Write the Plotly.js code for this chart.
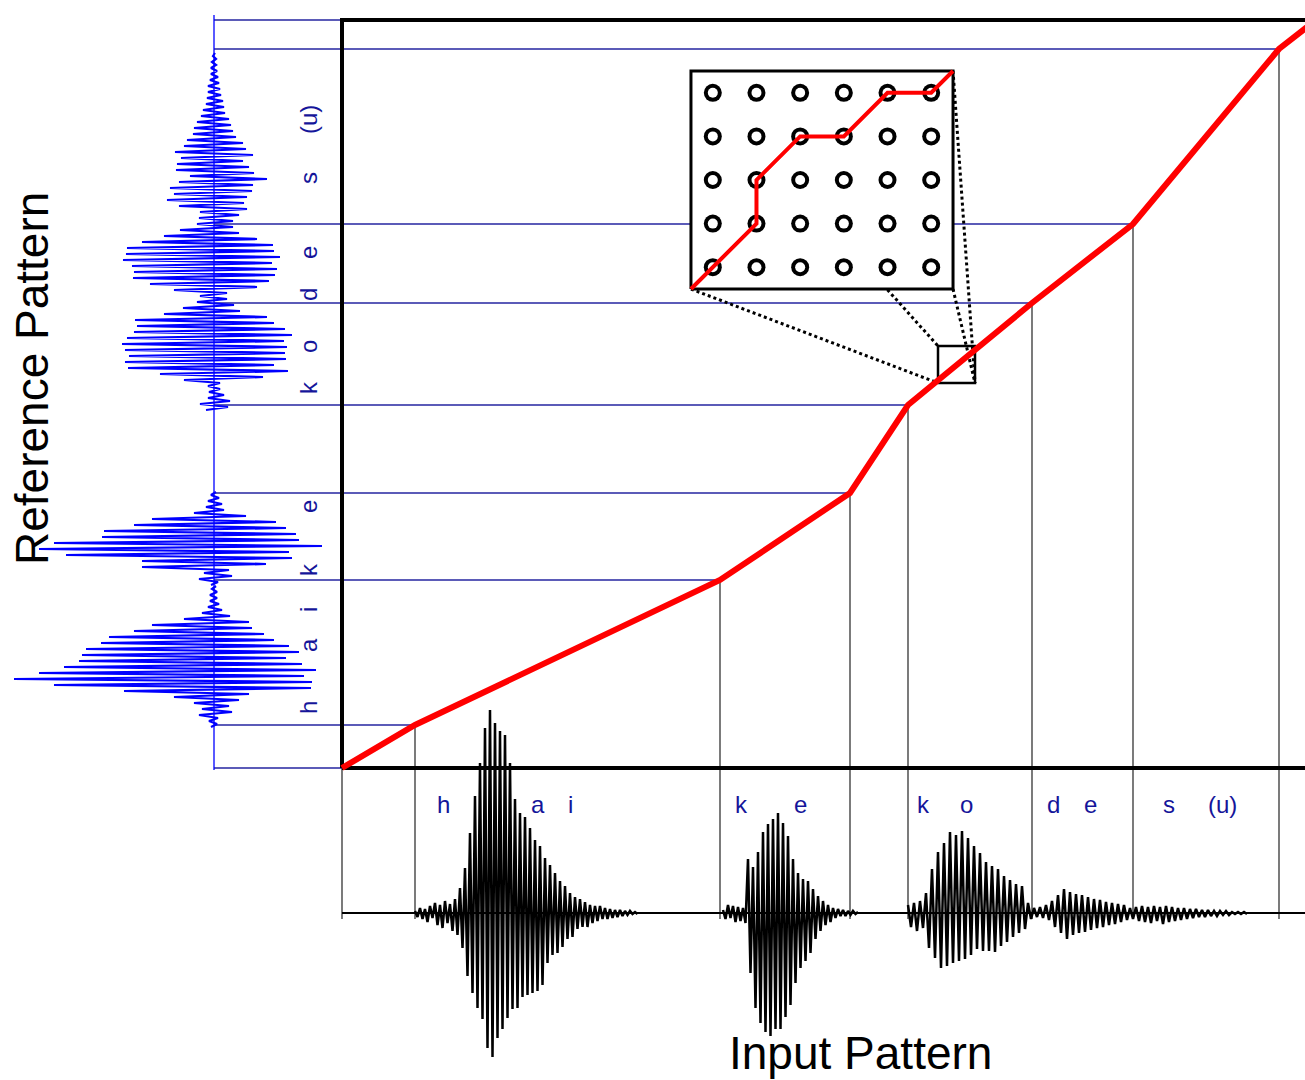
<!DOCTYPE html>
<html>
<head>
<meta charset="utf-8">
<script src="https://cdn.plot.ly/plotly-3.0.1.min.js"></script>
<style>html,body{margin:0;padding:0;overflow:hidden;background:#fff}</style>
</head>
<body>
<div id="chart" style="width:1305px;height:1080px"></div>
<script>
// ---------------- data ----------------
// segment boundaries (frames) on the input and reference time axes
const inputBounds = [0, 7.3, 37.8, 50.8, 56.6, 69.0, 79.1, 93.7, 97.4];
const refBounds   = [0, 4.3, 18.8, 27.5, 36.3, 46.5, 54.4, 71.9, 74.8];

// phoneme labels
const phonemes = ['h', 'a', 'i', 'k', 'e', 'k', 'o', 'd', 'e', 's', '(u)'];
const inputLabelPos = [10.1, 19.6, 22.8, 39.9, 45.8, 58.1, 62.4, 71.1, 74.8, 82.7, 88.0];
const refLabelPos   = [6.0, 12.3, 15.8, 19.8, 26.1, 38.0, 42.1, 47.3, 51.5, 59.0, 64.8];

// input waveform segments (amplitude samples)
const inHaiStart = 7.3, inHaiStep = 0.25;
const inHai = [2,-4,5,-6,4,-9,7,-5,10,-12,8,-15,12,-10,9,-18,14,-22,25,-35,
  45,-63,80,-80,117,-95,150,-106,185,-135,203,-144,190,-125,182,-116,178,-105,150,-96,
  114,-95,100,-84,96,-82,85,-80,73,-78,67,-72,55,-50,48,-42,40,-40,32,-34,
  27,-26,20,-24,16,-16,14,-14,11,-14,8,-10,7,-8,7,-6,5,-6,4,-5,
  3,-4,3,-3,2,-2,2,-1,1,-1];
const inKeStart = 38.1, inKeStep = 0.25;
const inKe = [3,-6,8,-5,7,-9,6,-8,5,-10,54,-60,46,-95,61,-110,81,-119,89,-123,
  94,-116,100,-116,90,-104,77,-92,54,-70,40,-55,34,-48,32,-40,24,-26,17,-18,
  12,-12,8,-9,5,-5,4,-3,3,-3,2,-2,2,-1,1];
const inKodesuStart = 56.6, inKodesuStep = 0.3;
const inKodesu = [8,-14,10,-18,12,-15,20,-35,44,-45,61,-55,70,-53,81,-50,78,-48,82,-46,
  75,-42,67,-36,60,-38,51,-38,47,-39,44,-33,37,-29,33,-24,29,-20,27,-16,
  10,-6,5,-4,6,-5,8,-7,12,-14,18,-20,24,-26,21,-22,19,-20,18,-19,
  16,-17,14,-15,13,-14,11,-12,10,-11,9,-9,8,-7,5,-6,6,-8,7,-9,
  6,-10,7,-8,6,-11,7,-9,6,-8,5,-7,5,-6,4,-5,4,-4,3,-4,
  3,-3,2,-3,2,-2,2,-2,1,-1,1,-1,1,-1];

// reference waveform segments (amplitude samples, negative = left)
const refHaiStart = 4.1, refHaiStep = 0.3;
const refHai = [-3,3,-5,4,-15,18,-12,15,-20,25,-40,35,-90,97,-160,98,-200,90,-175,102,
  -150,88,-135,72,-132,85,-128,75,-113,60,-105,50,-80,38,-62,35,-30,16,-12,8,
  -6,5,-4,3,-4,3,-2,2];
const refKeStart = 18.3, refKeStep = 0.3;
const refKe = [-3,4,-15,18,-10,15,-72,52,-72,78,-148,75,-175,108,-160,85,-112,82,-110,72,
  -80,62,-62,32,-20,10,-8,8,-6,5,-3,2];
const refKodesuStart = 35.8, refKodesuStep = 0.3;
const refKodesu = [-8,14,-14,16,-6,10,-5,6,-6,6,-30,49,-54,74,-86,60,-89,72,-85,71,
  -89,73,-92,70,-87,78,-80,71,-77,60,-79,53,-50,26,-31,20,-17,13,-14,13,
  -40,43,-64,55,-81,61,-80,63,-82,58,-91,66,-88,60,-87,59,-72,43,-50,25,
  -34,19,-17,19,-15,25,-14,33,-35,30,-47,33,-40,38,-44,39,-35,53,-24,40,
  -38,35,-37,29,-33,39,-39,32,-30,29,-27,22,-21,19,-20,17,-17,15,-13,11,
  -11,10,-8,9,-7,7,-6,6,-6,5,-4,4,-3,3,-3,2,-2,2,-1,1];

// DTW local grid shown in the inset
const gridCols = [0, 1, 2, 3, 4, 5];
const gridRows = [0, 1, 2, 3, 4];
const insetPathX = [-0.5, 0, 1, 1, 2, 3, 4, 5, 5.5];
const insetPathY = [-0.5, 0, 1, 2, 3, 3, 4, 4, 4.5];
// region of the main grid that the inset magnifies
const zoomWinX = [59.6, 63.3];
const zoomWinY = [38.5, 42.2];

// ---------------- layout helpers ----------------
const W = 1305, H = 1080;
const X_RANGE = [-34.2, 96.3];
const Y_RANGE = [-31.2, 76.8];
const pxX = px => X_RANGE[0] + px / W * (X_RANGE[1] - X_RANGE[0]);
const pxY = py => Y_RANGE[1] - py / H * (Y_RANGE[1] - Y_RANGE[0]);
const REF_BASE_X = pxX(214);
const VLINE_BOTTOM = pxY(919);
const INSET = {left: 686.6, right: 957.4, top: 66.6, bottom: 293.4};
const INSET_XR = [-0.6, 5.6], INSET_YR = [-0.6, 4.6];
function insetToMain(gx, gy) {
  const px = INSET.left + (gx - INSET_XR[0]) / (INSET_XR[1] - INSET_XR[0]) * (INSET.right - INSET.left);
  const py = INSET.bottom - (gy - INSET_YR[0]) / (INSET_YR[1] - INSET_YR[0]) * (INSET.bottom - INSET.top);
  return [pxX(px), pxY(py)];
}
const lineBlue = '#2424a0';
const labelBlue = '#15159a';
const N = inputBounds.length;
const xEnd = inputBounds[N - 1], yEnd = refBounds[N - 1];

const traces = [];
// blue horizontal boundary lines
{
  const x = [], y = [];
  for (let i = 0; i < N; i++) { x.push(REF_BASE_X, inputBounds[i], null); y.push(refBounds[i], refBounds[i], null); }
  traces.push({x, y, mode: 'lines', line: {color: lineBlue, width: 1.3}, xaxis: 'x', yaxis: 'y'});
}
// black vertical boundary lines
{
  const x = [], y = [];
  for (let i = 0; i < N; i++) { x.push(inputBounds[i], inputBounds[i], null); y.push(refBounds[i], VLINE_BOTTOM, null); }
  traces.push({x, y, mode: 'lines', line: {color: '#222', width: 1.2}, xaxis: 'x', yaxis: 'y'});
}
// main frame
traces.push({x: [0, 0, xEnd, xEnd, 0], y: [0, yEnd, yEnd, 0, 0], mode: 'lines',
  line: {color: '#000', width: 4}, xaxis: 'x', yaxis: 'y'});
// dotted projection lines
{
  const c = {
    tl: insetToMain(-0.5, 4.5), bl: insetToMain(-0.5, -0.5),
    tr: insetToMain(5.5, 4.5), br: insetToMain(5.5, -0.5)
  };
  const pairs = [
    [c.tl, [zoomWinX[0], zoomWinY[1]]],
    [c.bl, [zoomWinX[0], zoomWinY[0]]],
    [c.tr, [zoomWinX[1], zoomWinY[0]]],
    [c.br, [zoomWinX[1], zoomWinY[0]]]
  ];
  const x = [], y = [];
  pairs.forEach(p => { x.push(p[0][0], p[1][0], null); y.push(p[0][1], p[1][1], null); });
  traces.push({x, y, mode: 'lines', line: {color: '#000', width: 3, dash: 'dot'}, xaxis: 'x', yaxis: 'y'});
}
// zoom window
traces.push({x: [zoomWinX[0], zoomWinX[1], zoomWinX[1], zoomWinX[0], zoomWinX[0]],
  y: [zoomWinY[0], zoomWinY[0], zoomWinY[1], zoomWinY[1], zoomWinY[0]],
  mode: 'lines', line: {color: '#000', width: 2.5}, xaxis: 'x', yaxis: 'y'});
// warping path
traces.push({x: inputBounds, y: refBounds, mode: 'lines', line: {color: '#ff0000', width: 6},
  xaxis: 'x', yaxis: 'y'});

// inset
traces.push({x: [-0.5, 5.5, 5.5, -0.5, -0.5], y: [-0.5, -0.5, 4.5, 4.5, -0.5], mode: 'lines',
  fill: 'toself', fillcolor: '#ffffff', line: {color: '#000', width: 3}, xaxis: 'x4', yaxis: 'y4'});
{
  const gx = [], gy = [];
  gridRows.forEach(r => gridCols.forEach(cc => { gx.push(cc); gy.push(r); }));
  // ring markers: black disc with white centre
  traces.push({x: gx, y: gy, mode: 'markers',
    marker: {symbol: 'circle', size: 18, color: '#000', line: {width: 0}},
    xaxis: 'x4', yaxis: 'y4', cliponaxis: false});
  traces.push({x: gx, y: gy, mode: 'markers',
    marker: {symbol: 'circle', size: 10, color: '#fff', line: {width: 0}},
    xaxis: 'x4', yaxis: 'y4', cliponaxis: false});
}
traces.push({x: insetPathX, y: insetPathY, mode: 'lines', line: {color: '#ff0000', width: 4},
  xaxis: 'x4', yaxis: 'y4'});

// input waveform (bottom)
traces.push({x: [0, xEnd], y: [0, 0], mode: 'lines', line: {color: '#000', width: 1.8}, xaxis: 'x', yaxis: 'y2'});
[[inHai, inHaiStart, inHaiStep], [inKe, inKeStart, inKeStep], [inKodesu, inKodesuStart, inKodesuStep]]
  .forEach(s => traces.push({y: s[0], x0: s[1], dx: s[2], mode: 'lines',
    line: {color: '#000', width: 2.5, simplify: false}, xaxis: 'x', yaxis: 'y2'}));

// reference waveform (left)
traces.push({x: [0, 0], y: [pxY(770), pxY(15)], mode: 'lines', line: {color: '#0000ff', width: 1.3}, xaxis: 'x3', yaxis: 'y'});
[[refHai, refHaiStart, refHaiStep], [refKe, refKeStart, refKeStep], [refKodesu, refKodesuStart, refKodesuStep]]
  .forEach(s => traces.push({x: s[0], y0: s[1], dy: s[2], mode: 'lines',
    line: {color: '#0000ff', width: 2.2, simplify: false}, xaxis: 'x3', yaxis: 'y'}));

// annotations
const annotations = [];
const font = 'Liberation Sans, Arial, Helvetica, sans-serif';
phonemes.forEach((p, i) => {
  annotations.push({x: inputLabelPos[i], y: pxY(804), xref: 'x', yref: 'y', text: p, showarrow: false,
    font: {family: font, size: 24, color: labelBlue}, xanchor: 'center', yanchor: 'middle'});
  annotations.push({x: pxX(308), y: refLabelPos[i], xref: 'x', yref: 'y', text: p, showarrow: false,
    textangle: -90, font: {family: font, size: 24, color: labelBlue}, xanchor: 'center', yanchor: 'middle'});
});
annotations.push({x: 860 / W, y: 1 - 1053 / H, xref: 'paper', yref: 'paper', text: 'Input Pattern',
  showarrow: false, font: {family: font, size: 46, color: '#000'}, xanchor: 'center', yanchor: 'middle'});
annotations.push({x: 32 / W, y: 1 - 379 / H, xref: 'paper', yref: 'paper', text: 'Reference Pattern',
  showarrow: false, textangle: -90, font: {family: font, size: 46, color: '#000'}, xanchor: 'center', yanchor: 'middle'});

const hidden = {visible: false, showgrid: false, zeroline: false, fixedrange: true};
const layout = {
  width: W, height: H, margin: {l: 0, r: 0, t: 0, b: 0},
  paper_bgcolor: '#fff', plot_bgcolor: 'rgba(0,0,0,0)',
  showlegend: false, hovermode: false,
  xaxis: Object.assign({}, hidden, {domain: [0, 1], range: X_RANGE}),
  yaxis: Object.assign({}, hidden, {domain: [0, 1], range: Y_RANGE}),
  yaxis2: Object.assign({}, hidden, {overlaying: 'y', anchor: 'x', range: [-(H - 913), 913]}),
  xaxis3: Object.assign({}, hidden, {overlaying: 'x', anchor: 'y', range: [-214, W - 214]}),
  xaxis4: Object.assign({}, hidden, {domain: [INSET.left / W, INSET.right / W], range: INSET_XR, anchor: 'y4'}),
  yaxis4: Object.assign({}, hidden, {domain: [1 - INSET.bottom / H, 1 - INSET.top / H], range: INSET_YR, anchor: 'x4'}),
  annotations
};
Plotly.newPlot('chart', traces, layout, {staticPlot: true, displayModeBar: false});
</script>
</body>
</html>
